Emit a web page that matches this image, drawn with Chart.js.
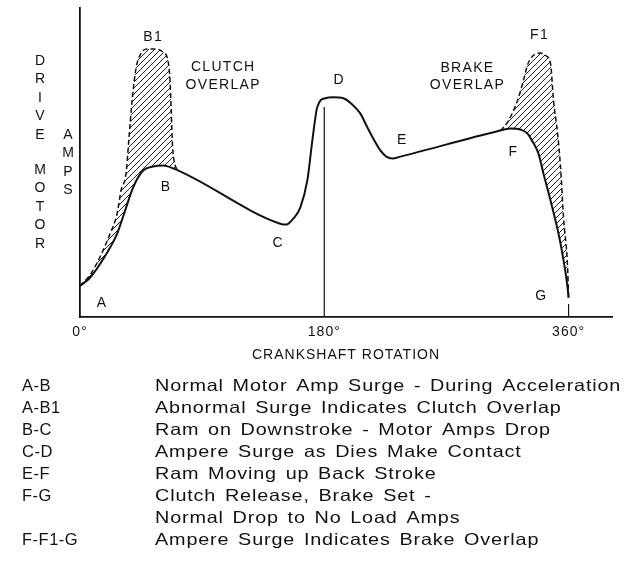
<!DOCTYPE html>
<html>
<head>
<meta charset="utf-8">
<script src="https://cdn.jsdelivr.net/npm/chart.js@4.4.0/dist/chart.umd.min.js"></script>
<style>
  html, body { margin: 0; padding: 0; background: #fff; }
  #wrap { width: 626px; height: 567px; }
</style>
</head>
<body>
<div id="wrap"><canvas id="ampChart" width="626" height="567"></canvas></div>
<script>
// crank angle (deg) vs drive motor amps (relative, 0-100)
const normalDeg  = [0, 7.4, 14.8, 22.1, 27.3, 33.2, 39.1, 46.5, 53.9, 61.2, 68.6, 147.5, 152, 157.1, 162.3, 167.5, 171.2, 174.8, 180.7, 186.6, 194, 200.6, 206.5, 211.7, 216.9, 221.3, 225.7, 230.2, 236, 307.6, 317.2, 325, 329.7, 334.2, 337.8, 341.5, 346.7, 354.1, 359.3, 360]
const normalAmps = [10.1, 12.7, 17.2, 22.4, 26.9, 34.4, 41.9, 47.4, 48.7, 49.0, 48.1, 30.2, 29.9, 31.8, 35.4, 44.2, 57.1, 67.9, 70.8, 71.1, 70.8, 68.8, 65.9, 61.4, 57.1, 53.9, 51.9, 51.3, 51.9, 60.1, 61.0, 60.6, 59.4, 56.2, 52.9, 46.4, 37.7, 23.7, 9.4, 6.2]

// A-B1 clutch overlap surge (dashed)
const clutchDeg  = [0, 7.4, 14.8, 22.1, 27.3, 30.2, 33.9, 36.1, 38.4, 41.3, 44.3, 49.4, 55.3, 61.2, 64.9, 66.4, 67.1, 68.2, 69.3, 71.6]
const clutchAmps = [10.1, 13.6, 19.5, 26.9, 33.4, 40.9, 46.4, 58, 70.1, 80.5, 84.8, 86.7, 86.7, 85.7, 82.8, 76.0, 68, 55, 50.6, 47.4]

// F-F1-G brake overlap surge (dashed)
const brakeDeg  = [309.8, 315, 322.4, 326.8, 329.7, 333.4, 339.4, 343.8, 346.7, 348.9, 351.9, 354.1, 356.3, 359.3, 360]
const brakeAmps = [60.3, 63, 70.1, 76.6, 81.5, 84.4, 85.4, 84.4, 82.1, 70.1, 59.4, 48.4, 32.1, 15.9, 6.5]

const dieContactDeg  = [180, 180]
const dieContactAmps = [0, 68]
const endTickDeg  = [360, 360]
const endTickAmps = [0, 4.2]

const tickDegrees = [0, 180, 360]

const pointNames = ['A', 'B', 'B1', 'C', 'D', 'E', 'F', 'F1', 'G']
const pointDeg   = [16.2, 63.4, 53.9, 146, 191, 237.5, 319.4, 338.6, 340]
const pointAmps  = [4.5, 41.9, 90.6, 24, 76.6, 57.1, 53.2, 91.2, 6.8]

const noteText = ['CLUTCH', 'OVERLAP', 'BRAKE', 'OVERLAP']
const noteDeg  = [105.5, 105.5, 285.5, 285.5]
const noteAmps = [80.8, 75, 80.5, 75]

const legendCodes = ['A-B', 'A-B1', 'B-C', 'C-D', 'E-F', 'F-G', '', 'F-F1-G']
const legendTexts = [
  'Normal Motor Amp Surge - During Acceleration',
  'Abnormal Surge Indicates Clutch Overlap',
  'Ram on Downstroke - Motor Amps Drop',
  'Ampere Surge as Dies Make Contact',
  'Ram Moving up Back Stroke',
  'Clutch Release, Brake Set -',
  'Normal Drop to No Load Amps',
  'Ampere Surge Indicates Brake Overlap'
]

const ink = '#111'
const fontFam = '"Liberation Sans", Arial, sans-serif'

function toXY(xs, ys) {
  return xs.map((x, i) => ({x: x, y: ys[i]}))
}

function hatch() {
  const c = document.createElement('canvas')
  c.width = 6; c.height = 6
  const g = c.getContext('2d')
  g.strokeStyle = '#222'
  g.lineWidth = 1
  g.beginPath()
  g.moveTo(-1, 7); g.lineTo(7, -1)
  g.moveTo(-1, 1); g.lineTo(1, -1)
  g.moveTo(5, 7); g.lineTo(7, 5)
  g.stroke()
  return g.createPattern(c, 'repeat')
}
const hatchFill = hatch()

const sketchText = {
  id: 'sketchText',
  beforeDraw(chart) {
    chart.ctx.letterSpacing = '1px'
  },
  afterDraw(chart) {
    const ctx = chart.ctx
    const x = chart.scales.x
    const y = chart.scales.y
    ctx.save()
    ctx.fillStyle = ink
    ctx.textAlign = 'center'
    ctx.textBaseline = 'middle'
    ctx.font = '14px ' + fontFam
    ctx.letterSpacing = '1.3px'
    pointNames.forEach((n, i) => {
      ctx.fillText(n, x.getPixelForValue(pointDeg[i]), y.getPixelForValue(pointAmps[i]))
    })
    noteText.forEach((t, i) => {
      ctx.fillText(t, x.getPixelForValue(noteDeg[i]), y.getPixelForValue(noteAmps[i]))
    })

    // axis name, letters stacked
    ctx.letterSpacing = '0px'
    const left = chart.chartArea.left
    'DRIVE'.split('').forEach((ch, i) => ctx.fillText(ch, left - 40, 61 + i * 18.5))
    'MOTOR'.split('').forEach((ch, i) => ctx.fillText(ch, left - 40, 170 + i * 18.5))
    'AMPS'.split('').forEach((ch, i) => ctx.fillText(ch, left - 12, 135 + i * 18.5))

    // key below the chart
    ctx.textAlign = 'left'
    ctx.font = '16.5px ' + fontFam
    legendTexts.forEach((t, i) => {
      const yy = 386 + i * 22
      ctx.letterSpacing = '0.5px'
      ctx.fillText(legendCodes[i], 22, yy)
      ctx.save()
      ctx.translate(155, yy)
      ctx.scale(1.2, 1)
      ctx.letterSpacing = '0.7px'
      ctx.wordSpacing = '2px'
      ctx.fillText(t, 0, 0)
      ctx.restore()
    })
    ctx.restore()
  }
}

new Chart(document.getElementById('ampChart'), {
  type: 'line',
  data: {
    datasets: [
      {
        label: 'Normal',
        data: toXY(normalDeg, normalAmps),
        borderColor: ink,
        borderWidth: 2,
        pointRadius: 0,
        cubicInterpolationMode: 'monotone',
        fill: false
      },
      {
        label: 'Clutch overlap',
        data: toXY(clutchDeg, clutchAmps),
        borderColor: ink,
        borderWidth: 1.5,
        borderDash: [5, 3],
        pointRadius: 0,
        cubicInterpolationMode: 'monotone',
        backgroundColor: hatchFill,
        fill: {target: 0, above: hatchFill, below: hatchFill}
      },
      {
        label: 'Brake overlap',
        data: toXY(brakeDeg, brakeAmps),
        borderColor: ink,
        borderWidth: 1.5,
        borderDash: [5, 3],
        pointRadius: 0,
        cubicInterpolationMode: 'monotone',
        backgroundColor: hatchFill,
        fill: {target: 0, above: hatchFill, below: hatchFill}
      },
      {
        label: '180',
        data: toXY(dieContactDeg, dieContactAmps),
        borderColor: ink,
        borderWidth: 1.2,
        pointRadius: 0,
        fill: false
      },
      {
        label: '360',
        data: toXY(endTickDeg, endTickAmps),
        borderColor: ink,
        borderWidth: 1.2,
        pointRadius: 0,
        fill: false
      }
    ]
  },
  options: {
    responsive: false,
    animation: false,
    devicePixelRatio: 1,
    layout: {padding: {left: 80, top: 8, right: 14, bottom: 203.2}},
    plugins: {
      legend: {display: false},
      tooltip: {enabled: false}
    },
    scales: {
      x: {
        type: 'linear',
        min: 0,
        max: 392,
        grid: {display: false, drawTicks: false},
        border: {display: true, color: ink, width: 1.8},
        afterBuildTicks: (s) => { s.ticks = tickDegrees.map(v => ({value: v})) },
        ticks: {
          color: ink,
          font: {family: fontFam, size: 14, lineHeight: 1.0},
          padding: 8,
          maxRotation: 0,
          autoSkip: false,
          callback: (v) => v + '°'
        },
        title: {
          display: true,
          text: 'CRANKSHAFT ROTATION',
          color: ink,
          font: {family: fontFam, size: 14},
          padding: {top: 0, bottom: 0}
        }
      },
      y: {
        type: 'linear',
        min: 0,
        max: 100,
        grid: {display: false, drawTicks: false},
        border: {display: true, color: ink, width: 1.8},
        ticks: {display: false}
      }
    }
  },
  plugins: [sketchText]
})
</script>
</body>
</html>
